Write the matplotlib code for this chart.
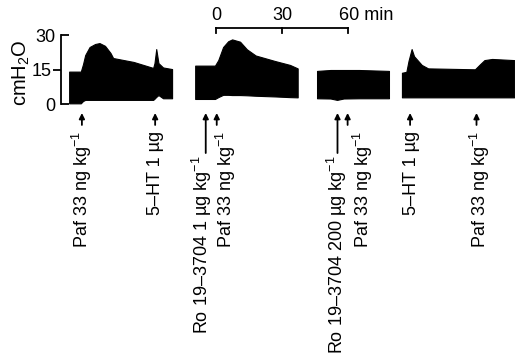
import matplotlib
matplotlib.use("Agg")
import matplotlib.pyplot as plt
import numpy as np

plt.rcParams['font.family'] = ['Liberation Sans', 'DejaVu Sans']
plt.rcParams['mathtext.fontset'] = 'custom'
plt.rcParams['mathtext.rm'] = 'Liberation Sans'
plt.rcParams['mathtext.it'] = 'Liberation Sans:italic'
plt.rcParams['mathtext.bf'] = 'Liberation Sans:bold'

# pressure trace, four recording segments (time in min, cmH2O upper/lower envelope)
seg1_t = [-66.8, -61.5, -60.5, -59.5, -57.5, -55.0, -53.0, -50.5, -48.0, -46.8, -37.5, -28.6, -28.0, -27.2, -26.2, -24.1, -20.0]
seg1_hi = [14.3, 14.3, 17.5, 21.5, 25.0, 26.3, 26.7, 25.5, 22.4, 20.2, 18.5, 15.9, 18.0, 24.1, 18.0, 16.1, 15.4]
seg1_lo = [0.5, 0.5, 1.5, 2.0, 2.0, 2.0, 2.0, 2.0, 2.0, 2.0, 2.0, 2.0, 2.5, 3.3, 4.1, 2.7, 2.7]

seg2_t = [-9.5, -0.5, 1.0, 3.2, 5.5, 7.3, 10.9, 14.0, 18.0, 26.8, 33.6, 37.1]
seg2_hi = [16.9, 16.9, 19.3, 25.0, 27.5, 28.3, 27.3, 24.0, 21.3, 18.9, 17.2, 15.7]
seg2_lo = [2.4, 2.4, 3.2, 4.2, 4.2, 4.1, 4.1, 4.0, 3.8, 3.5, 3.2, 3.1]

seg3_t = [45.9, 52.0, 55.0, 58.0, 65.0, 78.6]
seg3_hi = [14.6, 15.0, 15.0, 15.0, 15.0, 14.6]
seg3_lo = [2.7, 2.6, 2.0, 2.6, 2.7, 2.7]

seg4_t = [84.5, 86.5, 87.5, 88.9, 90.0, 93.5, 96.4, 117.7, 120.0, 122.0, 125.5, 135.5]
seg4_hi = [13.8, 14.2, 19.0, 24.1, 21.0, 17.2, 15.7, 15.3, 17.5, 19.3, 19.8, 19.3]
seg4_lo = [3.1, 3.1, 3.1, 3.1, 3.1, 3.1, 3.1, 3.1, 3.1, 3.1, 3.1, 3.1]

# injections
event_t = [-61.0, -27.7, -4.7, 0.3, 55.2, 59.8, 88.2, 118.4]
event_long = [False, False, True, False, True, False, False, False]
label_t = [-66.4, -31.4, -12.0, -1.2, 49.3, 61.1, 85.0, 114.5]
labels = ["Paf 33 ng kg$^{-1}$", "5\u2013HT 1 \u00b5g", "Ro 19\u20133704 1 \u00b5g kg$^{-1}$",
          "Paf 33 ng kg$^{-1}$", "Ro 19\u20133704 200 \u00b5g kg$^{-1}$", "Paf 33 ng kg$^{-1}$",
          "5\u2013HT 1 \u00b5g", "Paf 33 ng kg$^{-1}$"]

scale_t = [0, 30, 60]

fig = plt.figure(figsize=(5.15, 3.59), dpi=100)
ax = fig.add_axes([61 / 515, 0, 1 - 61 / 515, 1])
ax.set_xlim(-70.5, 135.9)
ax.set_ylim(-110.65, 45.43)

for t, hi, lo in [(seg1_t, seg1_hi, seg1_lo), (seg2_t, seg2_hi, seg2_lo),
                  (seg3_t, seg3_hi, seg3_lo), (seg4_t, seg4_hi, seg4_lo)]:
    ax.fill_between(t, lo, hi, color='black', lw=0.8, edgecolor='black')

# y axis as a bracket 0-30
for s in ['top', 'right', 'bottom']:
    ax.spines[s].set_visible(False)
ax.spines['left'].set_bounds(0, 30)
ax.spines['left'].set_linewidth(1.3)
ax.set_xticks([])
ax.set_yticks([0, 30])
ax.set_yticklabels(['0', '30'])
ax.set_yticks([15], minor=True)
ax.set_yticklabels(['15'], minor=True)
ax.tick_params(axis='y', which='major', direction='in', length=6, width=1.3, pad=4, labelsize=13)
ax.tick_params(axis='y', which='minor', direction='out', length=6, width=1.3, pad=1, labelsize=13)
ax.text(-88.6, 14.0, "cmH$_2$O", rotation=90, ha='center', va='center', fontsize=14.5, clip_on=False)

# time scale bar
ax.plot([scale_t[0], scale_t[-1]], [33.3, 33.3], color='black', lw=1.3, clip_on=False)
for s in scale_t:
    ax.plot([s, s], [33.3, 31.0], color='black', lw=1.3, clip_on=False)
ax.text(scale_t[0], 35.2, "0", ha='center', va='bottom', fontsize=13)
ax.text(scale_t[1], 35.2, "30", ha='center', va='bottom', fontsize=13)
ax.text(scale_t[2] - 4.0, 35.2, "60 min", ha='left', va='bottom', fontsize=13)

# injection arrows and labels
for t, lt, lab, lng in zip(event_t, label_t, labels, event_long):
    y0 = -21.1 if lng else -8.9
    ax.annotate('', xy=(t, -3.7), xytext=(t, y0),
                arrowprops=dict(arrowstyle='-|>', color='black', lw=1.3,
                                mutation_scale=8, shrinkA=0, shrinkB=0))
    ytop = -22.4 if lng else -11.5
    ax.text(lt, ytop, lab, rotation=90, ha='left', va='top', fontsize=13)

plt.savefig("out.png", dpi=100)
